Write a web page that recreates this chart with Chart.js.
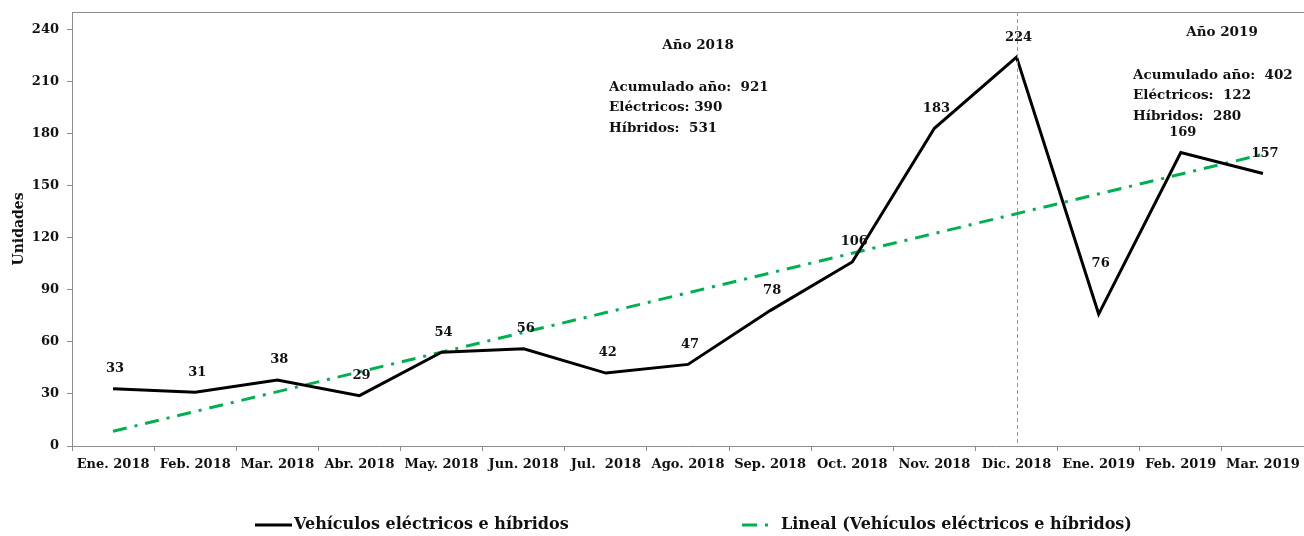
<!DOCTYPE html>
<html>
<head>
<meta charset="utf-8">
<script src="https://cdn.jsdelivr.net/npm/chart.js@4.4.1/dist/chart.umd.min.js"></script>
<style>
  html, body { margin: 0; padding: 0; background: #fff; }
  #wrap { width: 1304px; height: 536px; }
</style>
</head>
<body>
<div id="wrap"><canvas id="lineChart"></canvas></div>
<script>
// datos de la serie mensual
const meses = [
  "Ene. 2018", "Feb. 2018", "Mar. 2018", "Abr. 2018", "May. 2018",
  "Jun. 2018", "Jul.  2018", "Ago. 2018", "Sep. 2018", "Oct. 2018",
  "Nov. 2018", "Dic. 2018", "Ene. 2019", "Feb. 2019", "Mar. 2019"
];
const vehiculos = [33, 31, 38, 29, 54, 56, 42, 47, 78, 106, 183, 224, 76, 169, 157];
const tendencia = [8.5, null, null, null, null, null, null, null, null, null, null, null, null, null, 168];
const yTicks = [0, 30, 60, 90, 120, 150, 180, 210, 240];

const resumen2018 = ["Acumulado año:  921", "Eléctricos: 390", "Híbridos:  531"];
const resumen2019 = ["Acumulado año:  402", "Eléctricos:  122", "Híbridos:  280"];

const SERIF = "'DejaVu Serif', 'Liberation Serif', serif";
const AXIS_GRAY = "#8c8c8c";
const GREEN = "#00b050";

// dibuja etiquetas, notas, línea divisoria y leyenda
const decoraciones = {
  id: "decoraciones",
  afterDatasetsDraw(chart) {
    const { ctx, chartArea } = chart;
    const xs = chart.scales.x;
    ctx.save();

    // borde superior del área
    ctx.strokeStyle = AXIS_GRAY;
    ctx.lineWidth = 1;
    ctx.beginPath();
    ctx.moveTo(chartArea.left, chartArea.top + 0.5);
    ctx.lineTo(chartArea.right, chartArea.top + 0.5);
    ctx.stroke();

    // línea divisoria en Dic. 2018
    const xd = Math.round(xs.getPixelForValue(11)) + 0.5;
    ctx.strokeStyle = "#9a9a9a";
    ctx.setLineDash([4, 3]);
    ctx.beginPath();
    ctx.moveTo(xd, chartArea.top);
    ctx.lineTo(xd, chartArea.bottom);
    ctx.stroke();
    ctx.setLineDash([]);

    // etiquetas de datos
    ctx.fillStyle = "#111";
    ctx.font = "bold 13px " + SERIF;
    ctx.textAlign = "center";
    ctx.textBaseline = "middle";
    const meta = chart.getDatasetMeta(0);
    meta.data.forEach((pt, i) => {
      const extra = i === 12 ? 30 : 0;
      ctx.fillText(String(vehiculos[i]), pt.x + 2, pt.y - 20 - extra);
    });

    // notas de resumen
    ctx.font = "bold 13.5px " + SERIF;
    ctx.fillText("Año 2018", 698, 45);
    ctx.fillText("Año 2019", 1222, 32);
    ctx.textAlign = "left";
    resumen2018.forEach((t, i) => ctx.fillText(t, 609, 87 + i * 20.5));
    resumen2019.forEach((t, i) => ctx.fillText(t, 1133, 75 + i * 20.5));

    // leyenda
    const ly = 525;
    ctx.lineWidth = 3;
    ctx.strokeStyle = "#000";
    ctx.beginPath();
    ctx.moveTo(255, ly);
    ctx.lineTo(292, ly);
    ctx.stroke();
    ctx.strokeStyle = GREEN;
    ctx.setLineDash([15, 8, 3, 8]);
    ctx.beginPath();
    ctx.moveTo(742, ly);
    ctx.lineTo(773, ly);
    ctx.stroke();
    ctx.setLineDash([]);
    ctx.fillStyle = "#111";
    ctx.font = "bold 16px " + SERIF;
    ctx.fillText("Vehículos eléctricos e híbridos", 294, ly);
    ctx.fillText("Lineal (Vehículos eléctricos e híbridos)", 781, ly);

    ctx.restore();
  }
};

new Chart(document.getElementById("lineChart"), {
  type: "line",
  data: {
    labels: meses,
    datasets: [
      {
        label: "Vehículos eléctricos e híbridos",
        data: vehiculos,
        borderColor: "#000",
        borderWidth: 3,
        pointRadius: 0,
        tension: 0,
        order: 1
      },
      {
        label: "Lineal (Vehículos eléctricos e híbridos)",
        data: tendencia,
        borderColor: GREEN,
        borderWidth: 3,
        borderDash: [14, 8, 3, 8],
        pointRadius: 0,
        spanGaps: true,
        order: 2
      }
    ]
  },
  options: {
    responsive: true,
    maintainAspectRatio: false,
    animation: false,
    layout: { padding: { top: 12, right: 0, bottom: 0, left: 0 } },
    plugins: {
      legend: { display: false },
      tooltip: { enabled: false }
    },
    scales: {
      x: {
        offset: true,
        grid: { offset: true, drawOnChartArea: false, color: AXIS_GRAY, tickLength: 5 },
        border: { color: AXIS_GRAY },
        ticks: {
          color: "#111",
          font: { family: SERIF, size: 13, weight: "bold" },
          maxRotation: 0,
          autoSkip: false,
          padding: 6
        },
        afterFit(scale) {
          scale.height = 90;
          scale.paddingLeft = 0;
          scale.paddingRight = 0;
        }
      },
      y: {
        min: 0,
        max: 250,
        afterBuildTicks(scale) {
          scale.ticks = yTicks.map((v) => ({ value: v }));
        },
        grid: { drawOnChartArea: false, color: AXIS_GRAY, tickLength: 5 },
        border: { color: AXIS_GRAY },
        ticks: {
          color: "#111",
          font: { family: SERIF, size: 13, weight: "bold" },
          padding: 8
        },
        title: {
          display: true,
          text: "Unidades",
          color: "#111",
          font: { family: SERIF, size: 14, weight: "bold" },
          padding: { top: 11, bottom: 0 }
        },
        afterFit(scale) {
          scale.width = 72;
          scale.paddingTop = 0;
          scale.paddingBottom = 0;
        }
      }
    }
  },
  plugins: [decoraciones]
});
</script>
</body>
</html>
